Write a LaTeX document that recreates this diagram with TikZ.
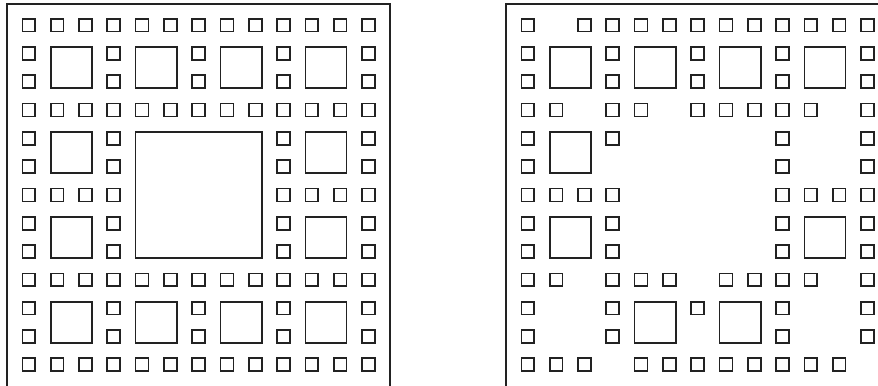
\documentclass[tikz,border=0pt]{standalone}
\definecolor{ink}{HTML}{222222}
\tikzset{
  frame/.style={draw=ink, line width=1.3pt},
  sq/.style={draw=ink, line width=1.4pt}
}
\begin{document}
\begin{tikzpicture}[x=0.03cm, y=-0.03cm]
  \useasboundingbox (0,0) rectangle (878,385);
  % full carpet
  \draw[frame] (7,390) -- (7,4) -- (390,4) -- (390,390);
  \foreach \r/\cols in {0/{0,1,...,12}, 1/{0,3,6,9,12}, 2/{0,3,6,9,12},
      3/{0,1,...,12}, 4/{0,3,9,12}, 5/{0,3,9,12}, 6/{0,1,2,3,9,10,11,12},
      7/{0,3,9,12}, 8/{0,3,9,12}, 9/{0,1,...,12}, 10/{0,3,6,9,12},
      11/{0,3,6,9,12}, 12/{0,1,...,12}}
    \foreach \c in \cols
      \draw[sq] ({22.4+28.3*\c},{18.7+28.3*\r}) rectangle ++(12.9,12.9);
  \foreach \c/\r in {1/1,4/1,7/1,10/1,1/4,10/4,1/7,10/7,1/10,4/10,7/10,10/10}
    \draw[sq] ({22.4+28.3*\c},{18.7+28.3*\r}) rectangle ++(41.2,41.2);
  \draw[sq] ({22.4+28.3*4},{18.7+28.3*4}) rectangle ++(126.1,126.1);
  % thinned carpet
  \begin{scope}[shift={(499,0)}]
    \draw[frame] (7,390) -- (7,4) -- (395,4);
    \foreach \r/\cols in {0/{0,2,3,4,5,6,7,8,9,10,11,12}, 1/{0,3,6,9,12},
        2/{0,3,6,9,12}, 3/{0,1,3,4,6,7,8,9,10,12}, 4/{0,3,9,12},
        5/{0,9,12}, 6/{0,1,2,3,9,10,11,12}, 7/{0,3,9,12}, 8/{0,3,9,12},
        9/{0,1,3,4,5,7,8,9,10,12}, 10/{0,3,6,9,12}, 11/{0,3,9,12},
        12/{0,1,2,4,5,6,7,8,9,10,11}}
      \foreach \c in \cols
        \draw[sq] ({22.4+28.3*\c},{18.7+28.3*\r}) rectangle ++(12.9,12.9);
    \foreach \c/\r in {1/1,4/1,7/1,10/1,1/4,1/7,10/7,4/10,7/10}
      \draw[sq] ({22.4+28.3*\c},{18.7+28.3*\r}) rectangle ++(41.2,41.2);
  \end{scope}
\end{tikzpicture}
\end{document}
